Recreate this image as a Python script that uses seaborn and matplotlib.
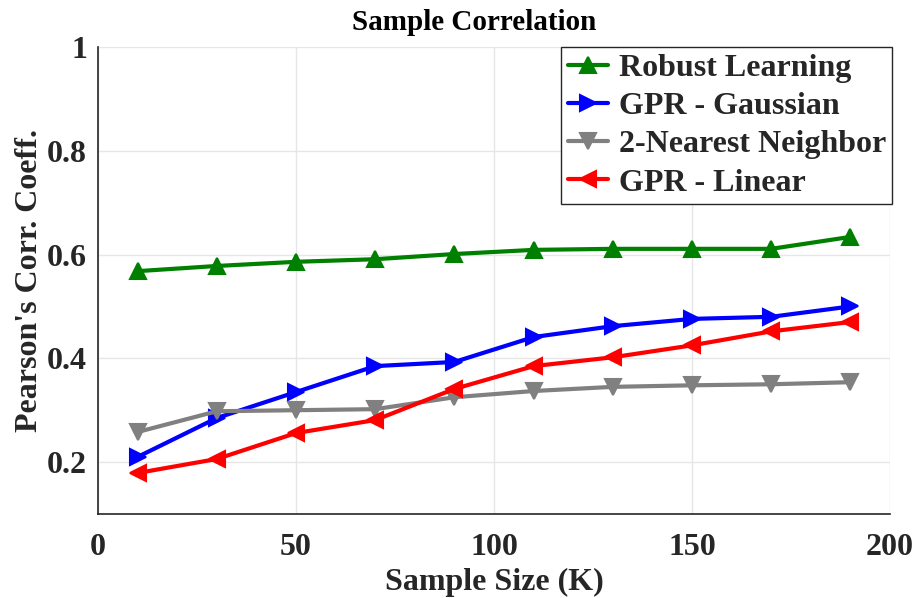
import numpy as np
import pandas as pd
import matplotlib
matplotlib.use('Agg')
import matplotlib.pyplot as plt
import seaborn as sns

sample_size = [10, 30, 50, 70, 90, 110, 130, 150, 170, 190]
robust = [0.568, 0.578, 0.586, 0.591, 0.601, 0.609, 0.611, 0.611, 0.611, 0.634]
gpr_gauss = [0.210, 0.285, 0.335, 0.385, 0.393, 0.441, 0.462, 0.476, 0.480, 0.500]
knn2 = [0.258, 0.298, 0.300, 0.302, 0.325, 0.337, 0.345, 0.348, 0.350, 0.354]
gpr_lin = [0.179, 0.206, 0.256, 0.281, 0.341, 0.385, 0.402, 0.425, 0.452, 0.470]

names = ['Robust Learning', 'GPR - Gaussian', '2-Nearest Neighbor', 'GPR - Linear']
colors = ['#008000', '#0000ff', '#808080', '#ff0000']
marks = ['^', '>', 'v', '<']

df = pd.DataFrame({
    'x': sample_size * 4,
    'y': robust + gpr_gauss + knn2 + gpr_lin,
    'method': [n for n in names for _ in sample_size],
})

sns.set_style('white')
plt.rcParams['font.family'] = ['Liberation Serif', 'DejaVu Serif']
plt.rcParams['font.weight'] = 'bold'

fig = plt.figure(figsize=(9.18, 5.98), dpi=100)
ax = fig.add_axes([0.1068, 0.1405, 0.8627, 0.7809])

sns.lineplot(data=df, x='x', y='y', hue='method', style='method',
             palette=dict(zip(names, colors)), markers=dict(zip(names, marks)),
             dashes=False, linewidth=3, markersize=12, markeredgewidth=1.5,
             ax=ax)

# markers in the reference are solid, no white edge
for ln in ax.lines:
    ln.set_markeredgecolor(ln.get_color())

ax.set_xlim(0, 200)
ax.set_ylim(0.1, 1)
ax.set_xticks([0, 50, 100, 150, 200])
ax.set_yticks([0.2, 0.4, 0.6, 0.8, 1])
ax.set_yticklabels(['0.2', '0.4', '0.6', '0.8', '1'])
ax.grid(True, color='#e6e6e6', linewidth=1)
ax.tick_params(direction='in', length=6, width=1, labelsize=23, colors='#262626')
for lbl in ax.get_xticklabels() + ax.get_yticklabels():
    lbl.set_fontweight('bold')
ax.tick_params(axis='x', pad=14)
ax.tick_params(axis='y', pad=8)
for s in ['top', 'right']:
    ax.spines[s].set_visible(False)
for s in ['left', 'bottom']:
    ax.spines[s].set_color('#262626')
    ax.spines[s].set_linewidth(1.2)

ax.set_xlabel('Sample Size (K)', fontsize=23, fontweight='bold', color='#262626', labelpad=4)
ax.set_ylabel("Pearson's Corr. Coeff.", fontsize=23, fontweight='bold', color='#262626', labelpad=2)
ax.set_title('Sample Correlation', fontsize=21, fontweight='bold', color='black',
             x=0.475, pad=12)

handles, labels = ax.get_legend_handles_labels()
for h, c in zip(handles, colors):
    h.set_markeredgecolor(c)
    h.set_linewidth(3)
    h.set_markersize(12)
leg = ax.legend(handles, labels, loc='upper right', bbox_to_anchor=(1.003, 1.0),
                handlelength=1.25, handletextpad=0.35, labelspacing=0.28,
                borderpad=0.2, borderaxespad=0, fancybox=False, framealpha=1,
                edgecolor='#262626', prop={'weight': 'bold', 'size': 23})
leg.get_frame().set_linewidth(1)

fig.savefig('out.png', dpi=100)
